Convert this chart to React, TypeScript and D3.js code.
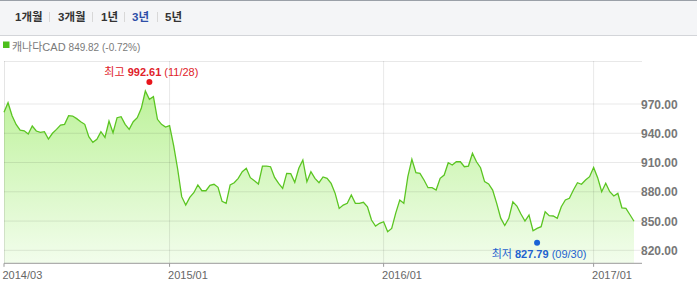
import React from "react";
import * as d3 from "d3";

const values: number[] = [
  961.5, 971.3, 958, 949, 943.3, 942.6, 939.2, 947.4, 942.3, 941,
  941.6, 934.1, 940, 944, 948.5, 949.2, 958, 957.7, 955, 951.9,
  949.2, 936.5, 930.7, 933.8, 941.6, 935.8, 952.6, 940.6, 956, 957,
  949.2, 944, 951.9, 956, 965.6, 983.3, 974.8, 977.5, 954.3, 949.2,
  946.4, 947.8, 927.6, 903.4, 875, 866.4, 874.3, 879.1, 887, 881.1,
  881.1, 886.6, 887.7, 884.6, 870.2, 868.2, 887, 889.3, 893.8, 900.6,
  904.1, 894.5, 891.4, 888, 906.4, 906.4, 905.7, 894.8, 888.6, 883.5,
  898.9, 898.6, 889.7, 904.1, 912.6, 890.4, 900.6, 893.8, 889.3, 895.2,
  893.8, 888.6, 878.4, 863, 866.4, 868.2, 876.7, 868.2, 868.2, 869.2,
  864.7, 851.1, 844.9, 847.7, 849.3, 839.1, 842.5, 858.1, 871.6, 868.2,
  895.5, 913.3, 899.6, 898.9, 892.1, 884.2, 884.2, 881.8, 893.8, 897.2,
  909.8, 907.5, 910.8, 910.8, 905.7, 906.4, 919.4, 910.8, 904.7, 890.4,
  888, 881.8, 868.2, 853, 845.5, 852.8, 869.8, 865.4, 857.2, 850,
  856.2, 840.1, 842.5, 844.2, 859.6, 855.5, 855.2, 852.8, 864.7, 871.6,
  873.3, 881.8, 889.3, 887.7, 892.1, 895.5, 905, 894.5, 880.1, 888.7,
  880.1, 875.7, 878.4, 863.6, 863, 856.5, 849.8,
];

const xTickLabels = ["2014/03", "2015/01", "2016/01", "2017/01"];
const xTickIndex = [0, 41, 94, 146];
const yTicks = [820, 850, 880, 910, 940, 970];
const periodTabs = ["1개월", "3개월", "1년", "3년", "5년"];
const activeTab = "3년";

const seriesName = "캐나다CAD";
const lastValue = "849.82";
const changePct = "(-0.72%)";

const maxValue = 992.61;
const maxIndex = 36;
const maxDate = "(11/28)";
const minValue = 827.79;
const minIndex = 132;
const minDate = "(09/30)";

const W = 697;
const H = 302;
const FONT = "'Liberation Sans', Arial, 'Noto Sans CJK KR', sans-serif";

export default function App() {
  const left = 4;
  const right = 642;
  const top = 61;
  const bottom = 263.3;

  const x = d3.scaleLinear().domain([0, values.length - 1]).range([left, 634]);
  const y = d3.scaleLinear().domain([806.7, 1014.1]).range([bottom, top]);

  const line = d3
    .line<number>()
    .x((_, i) => x(i))
    .y((d) => y(d));
  const area = d3
    .area<number>()
    .x((_, i) => x(i))
    .y0(bottom)
    .y1((d) => y(d));

  const tabX = [15, 58, 101, 132, 165];
  const sepX = [49.5, 92.5, 124.5, 157.5];

  return (
    <svg
      width={W}
      height={H}
      style={{ position: "absolute", left: 0, top: 0, fontFamily: FONT }}
    >
      <defs>
        <linearGradient id="fillg" x1="0" y1={top} x2="0" y2={bottom} gradientUnits="userSpaceOnUse">
          <stop offset="0%" stopColor="#b4f08c" />
          <stop offset="100%" stopColor="#f2fdec" />
        </linearGradient>
      </defs>
      <rect x={0} y={0} width={W} height={H} fill="#fff" />
      {/* top tab bar */}
      <rect x={0} y={0} width={W} height={35} fill="#f4f5f7" />
      <line x1={0} x2={W} y1={0.5} y2={0.5} stroke="#9aa0a8" />
      <line x1={0} x2={W} y1={35.5} y2={35.5} stroke="#d3d5d9" />
      {periodTabs.map((t, i) => (
        <text
          key={t}
          x={tabX[i]}
          y={21}
          fontSize={11.5}
          fontWeight="bold"
          fill={t === activeTab ? "#2e4fa8" : "#333"}
        >
          {t}
        </text>
      ))}
      {sepX.map((sx, i) => (
        <line key={i} x1={sx} x2={sx} y1={12} y2={22} stroke="#d8d8d8" />
      ))}
      {/* legend */}
      <rect x={3} y={41.5} width={6.5} height={6.5} fill="#4cbf1a" />
      <text x={12} y={51} fontSize={11} fill="#7a7a7a">
        {seriesName}
        <tspan fontSize={10} dx={3}>{lastValue} {changePct}</tspan>
      </text>

      {/* area */}
      <path d={area(values) || ""} fill="url(#fillg)" />

      {/* grid */}
      {yTicks.map((t) => (
        <line key={t} x1={left} x2={right} y1={y(t)} y2={y(t)} stroke="rgba(0,0,0,0.09)" />
      ))}
      <line x1={left} x2={right} y1={top + 0.5} y2={top + 0.5} stroke="rgba(0,0,0,0.09)" />
      <line x1={left + 0.5} x2={left + 0.5} y1={top} y2={bottom} stroke="rgba(0,0,0,0.1)" />
      {xTickIndex.slice(1).map((ti) => (
        <line key={ti} x1={x(ti)} x2={x(ti)} y1={top} y2={bottom} stroke="rgba(0,0,0,0.09)" />
      ))}

      {/* line */}
      <path d={line(values) || ""} fill="none" stroke="#5bc522" strokeWidth={1.3} />

      {/* x axis */}
      <line x1={left} x2={right} y1={bottom} y2={bottom} stroke="#9a9a9a" />
      {xTickIndex.map((ti, i) => (
        <g key={ti}>
          <line x1={x(ti)} x2={x(ti)} y1={bottom} y2={bottom + 3.5} stroke="#9a9a9a" />
          <text x={x(ti) - 1.5} y={279} fontSize={11} fill="#666">
            {xTickLabels[i]}
          </text>
        </g>
      ))}

      {/* y labels */}
      {yTicks.map((t) => (
        <text key={t} x={641} y={y(t) + 4.5} fontSize={12} fontWeight="bold" fill="#777">
          {t.toFixed(2)}
        </text>
      ))}

      {/* max marker */}
      <circle cx={x(maxIndex)} cy={y(maxValue)} r={3} fill="#e8151b" />
      <text x={x(maxIndex) + 2} y={75.5} fontSize={11} textAnchor="middle" fill="#e0222a">
        최고 <tspan fontWeight="bold">{maxValue.toFixed(2)}</tspan> {maxDate}
      </text>

      {/* min marker */}
      <circle cx={x(minIndex)} cy={y(minValue)} r={3} fill="#1a63d6" />
      <text x={x(minIndex) + 2} y={257.5} fontSize={11} textAnchor="middle" fill="#1f63cf">
        최저 <tspan fontWeight="bold">{minValue.toFixed(2)}</tspan> {minDate}
      </text>
    </svg>
  );
}
